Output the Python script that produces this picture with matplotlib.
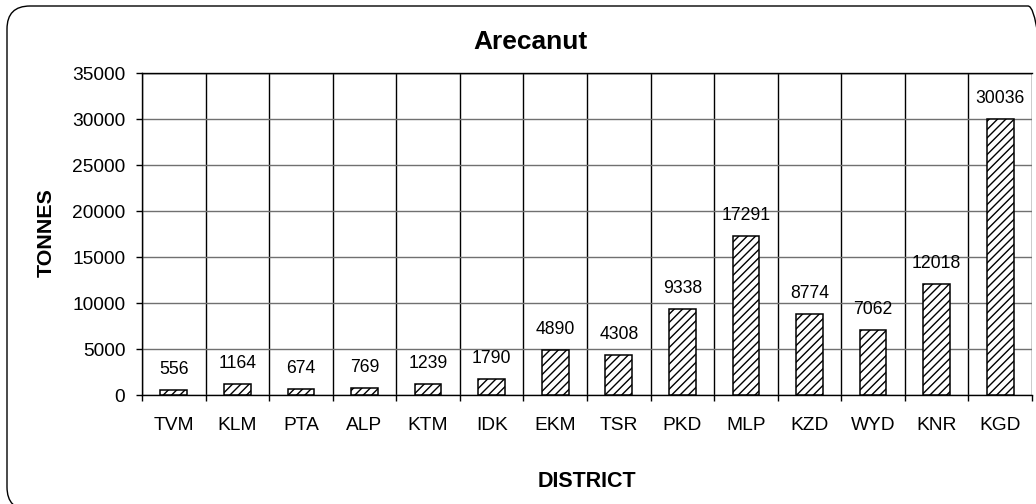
import matplotlib.pyplot as plt
import matplotlib.patches as mpatches
import matplotlib.transforms as mtransforms
import numpy as np

plt.rcParams['font.family'] = ['Liberation Sans', 'DejaVu Sans']
plt.rcParams['hatch.color'] = '#404040'
plt.rcParams['hatch.linewidth'] = 1.0

districts = ["TVM", "KLM", "PTA", "ALP", "KTM", "IDK", "EKM", "TSR",
             "PKD", "MLP", "KZD", "WYD", "KNR", "KGD"]
tonnes = [556, 1164, 674, 769, 1239, 1790, 4890, 4308,
          9338, 17291, 8774, 7062, 12018, 30036]

W, H = 1036, 504
fig = plt.figure(figsize=(W / 100, H / 100), dpi=100)
ax = fig.add_axes([142 / W, 1 - 395 / H, (1032 - 142) / W, (395 - 73) / H])

x = np.arange(len(districts))
ax.bar(x, tonnes, width=0.42, color='white', edgecolor='black',
       linewidth=1.1, hatch='////', zorder=3)

for xi, v in zip(x, tonnes):
    ax.annotate(str(v), (xi, v), xytext=(0, 8.6), textcoords='offset points',
                ha='center', va='bottom', fontsize=12.7, zorder=4)

ax.set_xlim(-0.5, len(districts) - 0.5)
ax.set_ylim(0, 35000)
ax.set_yticks(np.arange(0, 35001, 5000))
ax.yaxis.grid(True, color='#707070', linewidth=1.0, zorder=0)
# vertical lines at category boundaries
for b in np.arange(-0.5, len(districts), 1.0):
    ax.axvline(b, color='black', linewidth=1.0, zorder=1)
ax.axhline(35000, color='black', linewidth=1.0, zorder=1)
ax.set_xticks(np.arange(-0.5, len(districts), 1.0), minor=True)
ax.set_xticks(x)
ax.set_xticklabels(districts)
ax.tick_params(axis='x', which='major', length=0, pad=15.5, labelsize=13.8)
ax.tick_params(axis='x', which='minor', length=4.5, width=1, color='black')
ax.tick_params(axis='y', length=4.5, width=1, labelsize=13.8, pad=7.5)

ax.spines['right'].set_visible(False)
for s in ['top', 'left', 'bottom']:
    ax.spines[s].set_color('black')
    ax.spines[s].set_linewidth(1.0)

fig.text(587 / W, 1 - 487 / H, 'DISTRICT', ha='center', va='baseline',
         fontsize=15.5, fontweight='bold')
fig.text(52 / W, 1 - 233 / H, 'TONNES', ha='center', va='baseline',
         rotation=90, rotation_mode='anchor', fontsize=15.4, fontweight='bold')
fig.text(530 / W, 1 - 49 / H, 'Arecanut', ha='center', va='baseline',
         fontsize=19, fontweight='bold')

border = mpatches.FancyBboxPatch((7, H - 510), 1051 - 7, 510 - 6,
                                 boxstyle='round,pad=0,rounding_size=23',
                                 transform=mtransforms.IdentityTransform(),
                                 fill=False, edgecolor='black', linewidth=1.0,
                                 clip_on=False)
fig.patches.append(border)

fig.savefig('out.png', dpi=100)
